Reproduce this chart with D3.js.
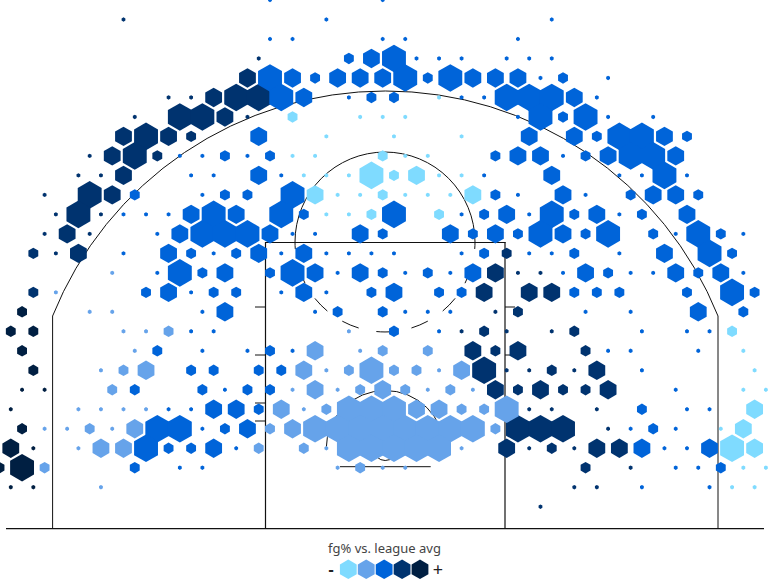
<!DOCTYPE html>
<html><head><meta charset="utf-8">
<script src="https://cdn.jsdelivr.net/npm/d3@7"></script>
<style>html,body{margin:0;padding:0;background:#fff}svg{display:block}</style>
</head><body><div id="chart"></div>
<script>
// each cell: [column, row, shot-volume class]
const lightCells = [
[5,5,0],[-8,6,1],[-2,6,0],[0,6,0],[2,6,0],[-5,7,0],[1,7,0],[7,7,0],[-8,8,0],[-6,8,0],[0,8,1],[2,8,0],[4,8,0],
[-7,9,0],[-5,9,0],[-3,9,0],[-1,9,3],[1,9,1],[3,9,2],[5,9,0],[7,9,0],
[-6,10,2],[-4,10,0],[-2,10,0],[0,10,1],[2,10,0],[4,10,0],[6,10,0],[8,10,2],
[-5,11,0],[-3,11,0],[-1,11,1],[5,11,1],[31,17,1],[32,18,0],[33,19,0],[32,20,0],[34,20,0],[33,21,2],
[30,22,0],[32,22,2],[31,23,3],[33,23,2],[32,24,0],[34,24,0],[31,25,0],[33,25,0]];
const midCells = [
[-24,14,0],[-29,15,0],[-26,16,0],[-24,16,0],[-23,17,0],[-21,17,0],[-19,17,1],[-3,17,0],
[-22,18,0],[-6,18,2],[-2,18,0],[0,18,1],[4,18,1],
[-25,19,0],[-23,19,1],[-21,19,2],[-7,19,2],[-5,19,0],[-3,19,1],[-1,19,3],[1,19,1],[3,19,1],[5,19,0],[7,19,2],
[-24,20,1],[-8,20,0],[-6,20,2],[-4,20,0],[-2,20,1],[0,20,2],[2,20,1],[4,20,0],[6,20,1],[8,20,0],
[-27,21,0],[-25,21,0],[-23,21,0],[-21,21,0],[-9,21,2],[-7,21,0],[-5,21,1],[-3,21,3],[-1,21,3],[1,21,3],[3,21,2],[5,21,2],[7,21,1],[9,21,1],[11,21,3],
[-30,22,0],[-28,22,0],[-26,22,1],[-24,22,0],[-22,22,2],[-10,22,1],[-8,22,2],[-6,22,3],[-4,22,3],[-2,22,3],[0,22,3],[2,22,3],[4,22,3],[6,22,3],[8,22,3],[10,22,1],
[-27,23,0],[-25,23,2],[-23,23,2],[-11,23,1],[-7,23,1],[-5,23,0],[-3,23,3],[-1,23,3],[1,23,3],[3,23,3],[5,23,3],[7,23,0],
[-30,24,1],[-4,24,0],[-2,24,1],[0,24,0],[2,24,0],[-25,25,0]];
const blueCells = [
[-10,0,0],[0,0,0],[-5,1,0],[15,1,0],[-10,2,0],[-8,2,0],[0,2,0],[2,2,0],[12,2,0],
[-3,3,1],[-1,3,2],[1,3,3],[3,3,0],[5,3,0],[7,3,0],[11,3,0],[13,3,0],[15,3,0],
[-10,4,3],[-8,4,2],[-6,4,1],[-4,4,2],[-2,4,2],[0,4,2],[2,4,3],[4,4,1],[6,4,3],[8,4,2],[10,4,2],[12,4,2],[14,4,0],[16,4,1],[20,4,0],
[-9,5,3],[-7,5,2],[-3,5,0],[-1,5,1],[1,5,1],[7,5,0],[9,5,0],[11,5,3],[13,5,3],[15,5,3],[17,5,2],[19,5,0],
[12,6,0],[14,6,3],[16,6,1],[18,6,3],[20,6,0],[24,6,0],
[-11,7,2],[13,7,2],[17,7,2],[19,7,1],[21,7,3],[23,7,3],[25,7,2],[27,7,1],
[-18,8,0],[-16,8,0],[-14,8,1],[-12,8,0],[-10,8,1],[10,8,1],[12,8,2],[14,8,2],[16,8,0],[18,8,1],[20,8,2],[22,8,3],[24,8,3],[26,8,2],
[-17,9,0],[-15,9,0],[-11,9,2],[-9,9,0],[9,9,0],[15,9,2],[21,9,0],[23,9,0],[25,9,3],[27,9,0],
[-22,10,1],[-16,10,0],[-14,10,1],[-12,10,1],[-8,10,3],[10,10,1],[12,10,0],[16,10,2],[18,10,0],[22,10,1],[24,10,2],[26,10,2],[28,10,1],
[-23,11,0],[-21,11,0],[-19,11,0],[-17,11,2],[-15,11,3],[-13,11,2],[-9,11,3],[-7,11,1],[1,11,3],[7,11,0],[9,11,1],[11,11,2],[13,11,0],[15,11,3],[17,11,1],[19,11,2],[21,11,0],[23,11,1],[27,11,2],
[-20,12,0],[-18,12,2],[-16,12,3],[-14,12,3],[-12,12,3],[-10,12,2],[-8,12,0],[-6,12,0],[-2,12,2],[0,12,1],[6,12,2],[8,12,1],[10,12,2],[12,12,1],[14,12,3],[16,12,2],[18,12,1],[20,12,3],[24,12,1],[26,12,0],[28,12,3],[30,12,1],[32,12,0],
[-23,13,0],[-19,13,2],[-17,13,1],[-15,13,0],[-13,13,1],[-11,13,2],[-9,13,0],[-7,13,2],[-5,13,0],[-3,13,0],[-1,13,0],[1,13,0],[7,13,0],[9,13,1],[13,13,0],[15,13,0],[17,13,1],[21,13,0],[25,13,2],[29,13,3],[31,13,1],
[-20,14,0],[-18,14,3],[-16,14,1],[-14,14,2],[-10,14,1],[-8,14,3],[-6,14,2],[-4,14,0],[-2,14,2],[0,14,1],[2,14,0],[4,14,1],[6,14,0],[8,14,2],[16,14,0],[18,14,2],[20,14,1],[22,14,0],[24,14,0],[26,14,2],[28,14,1],[30,14,2],[32,14,0],
[-21,15,1],[-19,15,2],[-17,15,0],[-15,15,1],[-13,15,1],[-9,15,0],[-7,15,2],[-5,15,0],[-1,15,1],[1,15,2],[5,15,1],[7,15,1],[17,15,1],[19,15,1],[21,15,1],[27,15,1],[31,15,3],[33,15,1],
[-16,16,0],[-14,16,2],[-6,16,0],[-4,16,1],[0,16,1],[2,16,0],[4,16,0],[6,16,0],[18,16,0],[22,16,0],[28,16,2],[32,16,1],
[-17,17,0],[-15,17,0],[1,17,1],[5,17,0],[23,17,0],[27,17,0],[29,17,0],
[-20,18,1],[-16,18,0],[-12,18,0],[-10,18,1],[-8,18,0],[20,18,0],[22,18,0],[28,18,0],
[-17,19,1],[-15,19,1],[-11,19,1],[-9,19,1],[23,19,0],
[-22,20,1],[-16,20,1],[-14,20,0],[-12,20,1],[-10,20,1],[26,20,0],
[-19,21,0],[-17,21,0],[-15,21,2],[-13,21,2],[-11,21,1],[23,21,1],[27,21,0],[29,21,0],
[-20,22,3],[-18,22,3],[-16,22,0],[-14,22,1],[-12,22,2],[22,22,0],[24,22,1],[26,22,0],
[-21,23,3],[-19,23,1],[-17,23,1],[-15,23,2],[-13,23,0],[23,23,2],[25,23,0],[27,23,0],[29,23,2],
[-22,24,1],[-18,24,0],[-16,24,0],[26,24,0],[28,24,0],[30,24,1],[23,25,0],[29,25,0]];
const darkCells = [
[-23,1,0],[-11,3,0],[-12,4,2],[-19,5,0],[-17,5,0],[-15,5,2],[-13,5,3],[-11,5,3],
[-22,6,0],[-18,6,3],[-16,6,3],[-14,6,2],[-12,6,0],[-23,7,2],[-21,7,3],[-19,7,2],[-17,7,1],
[-26,8,0],[-24,8,2],[-22,8,3],[-20,8,1],[-27,9,0],[-25,9,0],[-23,9,2],
[-30,10,0],[-26,10,3],[-24,10,2],[-29,11,0],[-27,11,3],[-25,11,0],[-30,12,0],[-28,12,2],[-26,12,0],
[-31,13,1],[-29,13,0],[-27,13,2],[11,13,1],[10,14,2],[12,14,0],[14,14,0],[-31,15,1],[9,15,2],[13,15,2],[15,15,2],
[10,16,0],[12,16,1],[7,17,0],[9,17,1],[11,17,0],[15,17,0],[17,17,1],
[8,18,2],[10,18,1],[12,18,2],[18,18,1],[9,19,3],[11,19,0],[13,19,0],[15,19,1],[17,19,0],[19,19,2],
[10,20,2],[12,20,1],[14,20,2],[16,20,1],[18,20,1],[20,20,2],[13,21,0],[15,21,0],[19,21,0],
[12,22,3],[14,22,3],[16,22,3],[20,22,0],[11,23,2],[13,23,0],[15,23,1],[17,23,0],[19,23,2],[21,23,2],
[18,24,1],[22,24,0],[17,25,0],[19,25,0],[14,26,0]];
const darkestCells = [
[-32,16,1],[-33,17,1],[-31,17,1],[-32,18,1],[-31,19,1],[-32,20,0],[-30,20,0],[-33,21,0],[-32,22,1],
[-33,23,2],[-31,23,0],[-34,24,1],[-32,24,3],[-33,25,0],[-31,25,0]];
const fgLevels = ["light","mid","blue","dark","darkest"];
const fgColors = ["#7fdbff","#66a3ea","#0064d9","#00336f","#001f42"];
const legendTitle = "fg% vs. league avg";
const legendEnds = ["-","+"];

const W = 770, H = 587;
const svg = d3.select("#chart").append("svg").attr("width",W).attr("height",H);

const xBin = d3.scaleLinear().domain([-34,34]).range([382.7-34*11.27,382.7+34*11.27]);
const yBin = d3.scaleLinear().domain([0,26]).range([0,506.7]);
const radius = d3.scaleOrdinal().domain([0,1,2,3]).range([2.2,5.7,9.7,13.8]);
const colour = d3.scaleOrdinal().domain(fgLevels).range(fgColors);

const court = svg.append("g").attr("fill","none").attr("stroke","#111").attr("stroke-width",1);
function line(x1,y1,x2,y2,w){court.append("line").attr("x1",x1).attr("y1",y1).attr("x2",x2).attr("y2",y2).attr("stroke-width",w||1);}
line(6,528.7,764,528.7,1.2);
line(52.6,529,52.6,316);
line(718,529,718,316);
line(265.5,529,265.5,242,1.2);
line(505,529,505,242,1.2);
line(265,242.5,505.5,242.5,1.2);
[307,355,403,421].forEach(y=>{line(255,y,265.5,y);line(505,y,515,y);});
line(340,466.7,430.7,466.7);
const hoopX=385.2;
const halfW=(718-52.6)/2;
const h=316-91, Rarc=(halfW*halfW+h*h)/(2*h);
court.append("path").attr("d",`M52.6,316A${Rarc},${Rarc} 0 0 1 718,316`);
court.append("path").attr("d",`M295,242A90,90 0 0 1 475,242`);
court.append("path").attr("d",`M295,242A90,90 0 0 0 475,242`).attr("stroke-dasharray","17.7 18").attr("stroke-dashoffset",10.5);
court.append("path").attr("d",`M326.2,449A59,58.5 0 0 1 444.2,449`);
court.append("circle").attr("cx",hoopX).attr("cy",449).attr("r",11.5);

function hexPath(r){
  const p=d3.path();
  d3.range(6).forEach(i=>{
    const a=Math.PI/3*i;
    const x=r*Math.sin(a), y=-r*Math.cos(a);
    i?p.lineTo(x,y):p.moveTo(x,y);
  });
  p.closePath();
  return p.toString();
}
const cells=[];
[darkestCells,darkCells,blueCells,midCells,lightCells].forEach((arr,i)=>arr.forEach(d=>cells.push({c:d[0],r:d[1],s:d[2],lvl:fgLevels[4-i]})));
svg.append("g").selectAll("path").data(cells).join("path")
  .attr("d",d=>hexPath(radius(d.s)))
  .attr("transform",d=>`translate(${xBin(d.c)},${yBin(d.r)})`)
  .attr("fill",d=>colour(d.lvl));

svg.append("text").attr("x",384.5).attr("y",553).attr("text-anchor","middle")
  .attr("font-family","'Noto Sans',sans-serif").attr("font-size",13).attr("fill","#444").text(legendTitle);
const lx=d3.scalePoint().domain(fgLevels).range([348.3,420]);
svg.append("g").selectAll("path").data(fgLevels).join("path")
  .attr("d",hexPath(9.7)).attr("transform",d=>`translate(${lx(d)},569.3)`).attr("fill",d=>colour(d));
svg.append("text").attr("x",331).attr("y",574.5).attr("text-anchor","middle").attr("font-family","'Noto Sans',sans-serif").attr("font-size",16).attr("font-weight",700).attr("fill","#222").text(legendEnds[0]);
svg.append("text").attr("x",438).attr("y",576).attr("text-anchor","middle").attr("font-family","'Noto Sans',sans-serif").attr("font-size",18).attr("fill","#222").text(legendEnds[1]);
</script></body></html>
